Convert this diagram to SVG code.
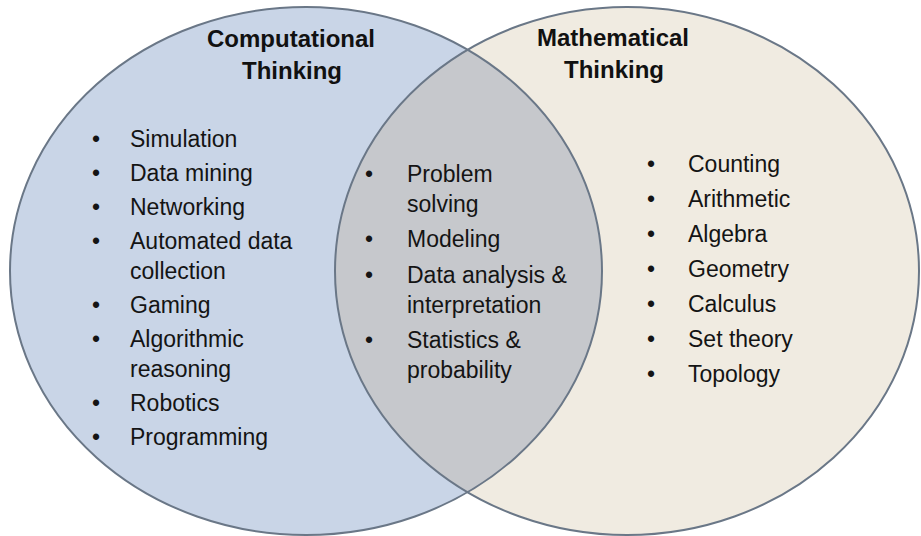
<svg xmlns="http://www.w3.org/2000/svg" width="921" height="536" viewBox="0 0 921 536">
<style>
.title{font-family:"Liberation Sans",Arial,sans-serif;font-weight:bold;font-size:24px;fill:#111111;text-anchor:middle}
.item{font-family:"Liberation Sans",Arial,sans-serif;font-size:23px;fill:#141414}
.outline{fill:none;stroke:#6a7787;stroke-width:2}
</style>
<defs>
<clipPath id="clipLeft"><ellipse cx="306" cy="271" rx="296" ry="264"/></clipPath>
</defs>
<rect width="921" height="536" fill="#ffffff"/>
<g id="computational-thinking">
<ellipse cx="306" cy="271" rx="296" ry="264" fill="#c9d5e7"/>
</g>
<g id="mathematical-thinking">
<ellipse cx="627" cy="271" rx="292" ry="264" fill="#f0ebe1"/>
</g>
<g id="overlap">
<ellipse cx="627" cy="271" rx="292" ry="264" fill="#c6c8cc" clip-path="url(#clipLeft)"/>
</g>
<g id="outlines">
<ellipse class="outline" cx="306" cy="271" rx="296" ry="264"/>
<ellipse class="outline" cx="627" cy="271" rx="292" ry="264"/>
</g>
<g id="titles">
<text class="title" x="291" y="47">Computational</text>
<text class="title" x="292" y="79">Thinking</text>
<text class="title" x="613" y="46">Mathematical</text>
<text class="title" x="614" y="78">Thinking</text>
</g>
<g id="left-items" class="item">
<text x="92" y="147">•</text><text x="130" y="147">Simulation</text>
<text x="92" y="181">•</text><text x="130" y="181">Data mining</text>
<text x="92" y="215">•</text><text x="130" y="215">Networking</text>
<text x="92" y="249">•</text><text x="130" y="249">Automated data</text>
<text x="130" y="279">collection</text>
<text x="92" y="313">•</text><text x="130" y="313">Gaming</text>
<text x="92" y="347">•</text><text x="130" y="347">Algorithmic</text>
<text x="130" y="377">reasoning</text>
<text x="92" y="411">•</text><text x="130" y="411">Robotics</text>
<text x="92" y="445">•</text><text x="130" y="445">Programming</text>
</g>
<g id="middle-items" class="item">
<text x="365" y="182">•</text><text x="407" y="182">Problem</text>
<text x="407" y="212">solving</text>
<text x="365" y="247">•</text><text x="407" y="247">Modeling</text>
<text x="365" y="283">•</text><text x="407" y="283">Data analysis &amp;</text>
<text x="407" y="313">interpretation</text>
<text x="365" y="348">•</text><text x="407" y="348">Statistics &amp;</text>
<text x="407" y="378">probability</text>
</g>
<g id="right-items" class="item">
<text x="647" y="172">•</text><text x="688" y="172">Counting</text>
<text x="647" y="207">•</text><text x="688" y="207">Arithmetic</text>
<text x="647" y="242">•</text><text x="688" y="242">Algebra</text>
<text x="647" y="277">•</text><text x="688" y="277">Geometry</text>
<text x="647" y="312">•</text><text x="688" y="312">Calculus</text>
<text x="647" y="347">•</text><text x="688" y="347">Set theory</text>
<text x="647" y="382">•</text><text x="688" y="382">Topology</text>
</g>
</svg>
